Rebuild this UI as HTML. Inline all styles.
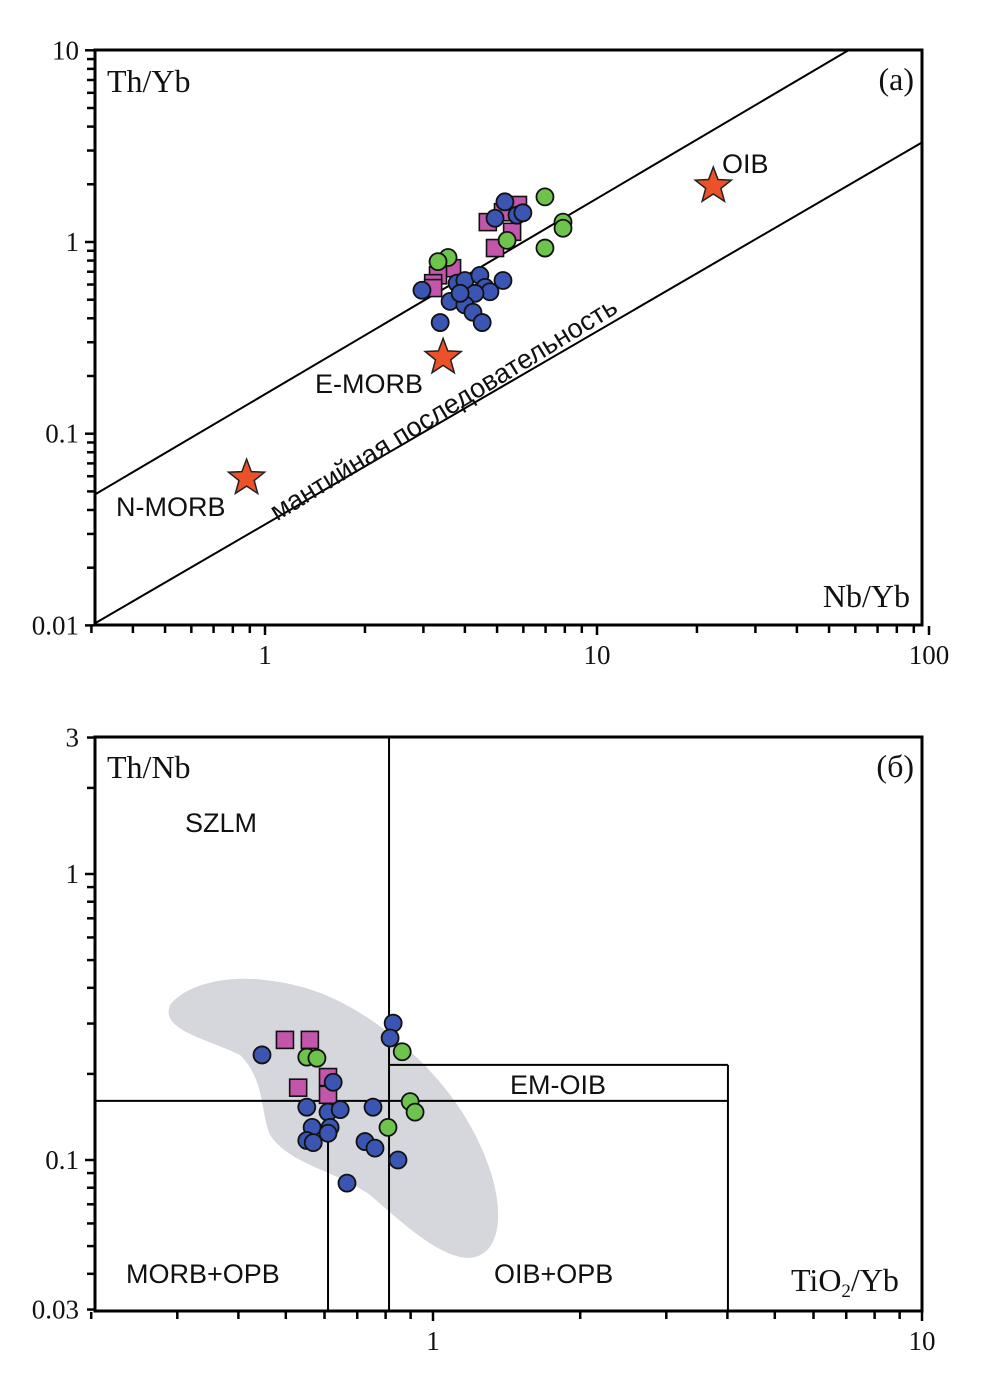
<!DOCTYPE html>
<html><head><meta charset="utf-8"><style>
body{margin:0;background:#fff}
svg{display:block}
text{font-family:"Liberation Serif",serif;fill:#111}
.s{font-family:"Liberation Sans","DejaVu Sans",sans-serif}
</style></head><body>
<svg id="c" width="996" height="1387" viewBox="0 0 996 1387"></svg>
<script>
// ---- chart (a) data ----
const aBlue=[[2.97,0.56],[3.37,0.38],[3.79,0.61],[4.0,0.63],[4.44,0.67],[5.21,0.63],[4.6,0.58],[4.76,0.55],[4.29,0.54],[3.61,0.49],[4.0,0.47],[4.23,0.43],[4.51,0.38],[3.87,0.54],[5.28,1.62],[4.93,1.33],[5.74,1.38],[5.98,1.42]];
const aMag=[[5.78,1.56],[4.69,1.27],[5.55,1.13],[4.93,0.93],[3.66,0.73],[3.32,0.67],[3.21,0.61],[3.21,0.575],[5.21,1.43]];
const aGreen=[[6.97,1.72],[7.9,1.27],[7.9,1.18],[6.97,0.93],[5.36,1.02],[3.56,0.83],[3.32,0.79]];
const aStars=[["N-MORB",0.88,0.0587],["E-MORB",3.44,0.25],["OIB",22.4,1.96]];
const aLineY0=[0.047,0.01];
const aLineSlope=[1.021,1.007];
const aXTicks=[1,10,100];
const aYTicks=[0.01,0.1,1,10];
// ---- chart (b) data ----
const bBlue=[[0.447,0.233],[0.829,0.301],[0.817,0.267],[0.625,0.187],[0.552,0.153],[0.61,0.147],[0.646,0.150],[0.566,0.130],[0.616,0.130],[0.552,0.117],[0.61,0.124],[0.569,0.115],[0.754,0.153],[0.726,0.116],[0.761,0.110],[0.848,0.100],[0.667,0.083]];
const bMag=[[0.498,0.263],[0.56,0.263],[0.61,0.195],[0.53,0.179],[0.61,0.169]];
const bGreen=[[0.552,0.229],[0.579,0.227],[0.865,0.239],[0.898,0.160],[0.919,0.147],[0.809,0.130]];
const bXTicks=[1,10];
const bYTicks=[0.03,0.1,1,3];
const bBounds={vx:0.813,vx2:0.61,hy:0.161,boxTop:0.215,boxRight:4.01};

const NS="http://www.w3.org/2000/svg",svg=document.getElementById('c');
function el(t,a,p){const e=document.createElementNS(NS,t);for(const k in a)e.setAttribute(k,a[k]);(p||svg).appendChild(e);return e;}
const L=Math.log10;
const ax=v=>265+L(v)*332, ay=v=>242-L(v)*191.7;
const bx=v=>433+L(v)*489, by=v=>874-L(v)*286;
const COL={b:"#3b55b3",m:"#c256ab",g:"#6dc34c"};

function frame(x0,y0,x1,y1,name){
  const r=el('rect',{x:x0,y:y0,width:x1-x0,height:y1-y0,fill:'none',stroke:'#000','stroke-width':3});
  
  
}
function logTicks(minE,maxE,fx,fy,horiz,lo,hi,pos){
  for(let e=minE;e<=maxE;e++)for(let m=1;m<10;m++){const v=m*Math.pow(10,e);if(v<lo-1e-9||v>hi+1e-9)continue;
    const len=m==1?9:7;
    if(horiz){const x=fx(v);el('line',{x1:x,y1:pos,x2:x,y2:pos+len,stroke:'#000','stroke-width':2.5});}
    else{const y=fy(v);el('line',{x1:pos,y1:y,x2:pos-len,y2:y,stroke:'#000','stroke-width':2.5});}}
}
function circ(x,y,c,name){const e=el('circle',{cx:x,cy:y,r:8.5,fill:c,stroke:'#111','stroke-width':1.8});}
function sq(x,y,c,name){const e=el('rect',{x:x-8.5,y:y-8.5,width:17,height:17,fill:c,stroke:'#111','stroke-width':1.6});}
function txt(s,x,y,size,cls,anchor,name,extra){const t=el('text',Object.assign({x:x,y:y,'font-size':size,'text-anchor':anchor||'start'},extra||{}));if(cls)t.setAttribute('class',cls);t.textContent=s;return t;}

// ===== chart a =====
el('clipPath',{id:'ca'}).appendChild(el('rect',{x:95,y:50,width:827,height:575}));
aLineY0.forEach((y0,i)=>{const s=aLineSlope[i],x0=0.3,x1=100;const y1=y0*Math.pow(x1/x0,s);const ln=el('line',{x1:ax(x0),y1:ay(y0),x2:ax(x1),y2:ay(y1),stroke:'#000','stroke-width':2,'clip-path':'url(#ca)'});});
frame(95,50,922,625,'plot-frame-a');
logTicks(-1,2,ax,ay,true,0.3,100,626);
logTicks(-2,1,ax,ay,false,0.01,10,94);
aXTicks.forEach(v=>txt(String(v),ax(v),664,27,'','middle','x-tick-label-a'));
aYTicks.forEach(v=>txt(String(v),79,ay(v)+9,27,'','end','y-tick-label-a'));
aMag.forEach(p=>sq(ax(p[0]),ay(p[1]),COL.m,'point-magenta-a'));
aGreen.forEach(p=>circ(ax(p[0]),ay(p[1]),COL.g,'point-green-a'));
aBlue.forEach(p=>circ(ax(p[0]),ay(p[1]),COL.b,'point-blue-a'));
function star(cx,cy,R,r){let pts=[];for(let i=0;i<10;i++){const a=-Math.PI/2+i*Math.PI/5,rr=i%2?r:R;pts.push((cx+rr*Math.cos(a)).toFixed(1)+','+(cy+rr*Math.sin(a)).toFixed(1));}return pts.join(' ');}
aStars.forEach(s=>{const p=el('polygon',{points:star(ax(s[1]),ay(s[2]),19,8),fill:'#ec5129',stroke:'#222','stroke-width':1.5});});
txt('N-MORB',116,516,27,'s','start','label-n-morb');
txt('E-MORB',315,393,27,'s','start','label-e-morb');
txt('OIB',722,173,27,'s','start','label-oib');
txt('мантийная последовательность',443,418,27,'s','middle','label-mantle-array',{transform:'rotate(-31.5 443 408)'});
txt('Th/Yb',107,92,32,'','start','y-axis-title-a');
txt('Nb/Yb',910,607,32,'','end','x-axis-title-a');
txt('(a)',914,90,32,'','end','panel-label-a');

// ===== chart b =====
const reg=el('path',{d:'M170,1005 C185,985 225,975 265,980 C310,985 345,1000 385,1030 C430,1065 470,1110 490,1170 C505,1215 500,1255 470,1258 C440,1258 405,1225 370,1195 C335,1170 290,1165 270,1135 C260,1110 265,1080 240,1055 C205,1038 160,1030 170,1005 Z',fill:'#d6d7dc'});

const B=bBounds;
[[bx(B.vx),737,bx(B.vx),1311,'divider-vertical'],[bx(B.vx2),by(B.hy),bx(B.vx2),1311,'divider-morb'],[95,by(B.hy),bx(B.boxRight),by(B.hy),'divider-horizontal'],[bx(B.vx),by(B.boxTop),bx(B.boxRight),by(B.boxTop),'em-oib-top'],[bx(B.boxRight),by(B.boxTop),bx(B.boxRight),1311,'em-oib-right']].forEach(l=>{const e=el('line',{x1:l[0],y1:l[1],x2:l[2],y2:l[3],stroke:'#000','stroke-width':2});});
frame(95,737,922,1311,'plot-frame-b');
logTicks(-1,1,bx,by,true,0.2,10,1312);
logTicks(-2,0,bx,by,false,0.03,3,94);
bXTicks.forEach(v=>txt(String(v),bx(v),1350,27,'','middle','x-tick-label-b'));
bYTicks.forEach(v=>txt(String(v),79,by(v)+9,27,'','end','y-tick-label-b'));
bMag.forEach(p=>sq(bx(p[0]),by(p[1]),COL.m,'point-magenta-b'));
bGreen.forEach(p=>circ(bx(p[0]),by(p[1]),COL.g,'point-green-b'));
bBlue.forEach(p=>circ(bx(p[0]),by(p[1]),COL.b,'point-blue-b'));
txt('SZLM',185,832,27,'s','start','label-szlm');
txt('EM-OIB',558,1094,27,'s','middle','label-em-oib');
txt('MORB+OPB',126,1283,27,'s','start','label-morb-opb');
txt('OIB+OPB',494,1283,27,'s','start','label-oib-opb');
txt('Th/Nb',107,778,32,'','start','y-axis-title-b');
const tt=txt('TiO',791,1291,32,'','start','x-axis-title-b');
const sub=el('tspan',{'font-size':19,dy:6},tt);sub.textContent='2';
const r2=el('tspan',{dy:-6},tt);r2.textContent='/Yb';
txt('(б)',914,777,32,'','end','panel-label-b');
</script>
</body></html>
